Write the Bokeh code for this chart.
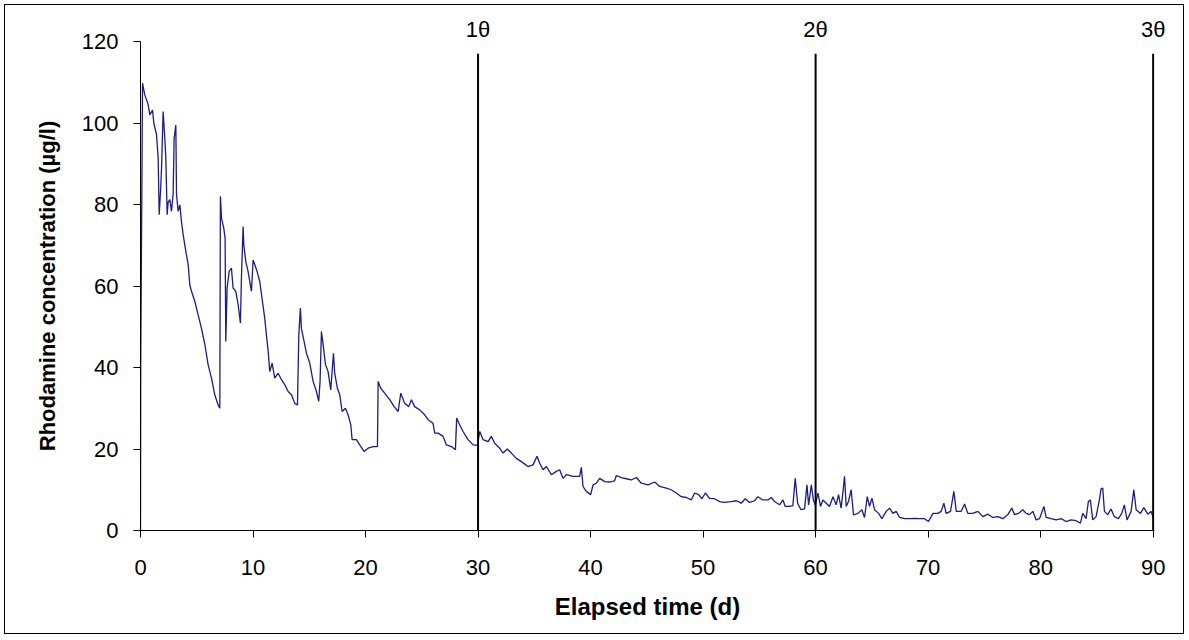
from bokeh.plotting import figure
from bokeh.models import Range1d, FixedTicker, ColumnDataSource, LinearAxis
from bokeh.embed import file_html
from bokeh.resources import INLINE

# Elapsed time (d)
days = [0, 0.02, 0.18, 0.38, 0.68, 0.83, 1.07, 1.18, 1.42, 1.57, 1.66, 1.78, 1.87, 2.01, 2.16, 2.25, 2.37, 2.46,
        2.61, 2.75, 2.9, 2.99, 3.14, 3.2, 3.35, 3.5, 3.64, 3.79, 4.03, 4.24, 4.38, 4.53, 4.83, 5.12, 5.42, 5.72,
        6.01, 6.31, 6.6, 6.9, 7.05, 7.1, 7.2, 7.4, 7.52, 7.58, 7.7, 7.88, 8.08, 8.23, 8.47, 8.68, 8.88, 8.97,
        9.12, 9.18, 9.36, 9.56, 9.71, 9.86, 10.01, 10.16, 10.36, 10.6, 10.84, 11.04,
        11.19, 11.35, 11.49, 11.7, 11.93, 12.23, 12.53, 12.82, 13.12, 13.42, 13.71, 13.95, 14.07, 14.21, 14.3,
        14.45, 14.75, 15.04, 15.34, 15.64, 15.84, 15.96, 16.08, 16.23, 16.44, 16.67, 16.91, 17.03, 17.15, 17.26,
        17.5, 17.71, 17.92, 18.21, 18.45, 18.69, 18.81, 19.19, 19.48, 19.87, 20.23, 20.67, 21.06, 21.12, 21.35,
        21.7, 22.15, 22.54, 22.9, 23.13,
        23.48, 23.84, 24.08, 24.37, 24.81, 25.26, 25.56, 26.0, 26.15, 26.45, 26.89, 27.19, 27.63, 27.99, 28.1,
        28.37, 28.67, 29.11, 29.56, 29.94, 30.15, 30.44, 30.89, 31.18, 31.48, 31.92, 32.22, 32.6, 32.96, 33.4,
        33.85, 34.44, 34.89, 35.24, 35.48, 35.78, 36.07, 36.52, 36.96, 37.25, 37.55, 37.85, 38.44, 39.03, 39.18,
        39.33, 39.62,
        40.01, 40.22, 40.51, 40.81, 41.25, 41.69, 42.14, 42.29, 42.73, 43.18, 43.62, 44.07, 44.51, 45.1, 45.7,
        46.14, 46.73, 47.17, 47.62, 48.06, 48.51, 48.95, 49.25, 49.6, 49.9, 50.2, 50.58, 51.02, 51.47, 51.91,
        52.5, 52.95, 53.39, 53.75, 54.13, 54.58, 54.87, 55.32, 55.76, 56.06, 56.35, 56.8, 57.1, 57.3, 57.68,
        57.98, 58.19, 58.4, 58.7, 59.02, 59.23, 59.38, 59.62, 59.8, 59.97, 60.21, 60.44, 60.65, 60.95, 61.24,
        61.54, 61.83, 62.04, 62.27, 62.42, 62.57, 62.72, 62.92, 63.16, 63.37, 63.76, 64.11, 64.35, 64.59, 64.79,
        65.01, 65.24, 65.6, 65.89, 66.28, 66.57, 66.87, 67.16, 67.46, 67.9, 68.35, 68.79, 69.24, 69.68, 70.03,
        70.43, 70.87, 71.16, 71.4, 71.6, 71.99, 72.29, 72.5, 72.94, 73.24, 73.53, 73.98, 74.42, 74.87,
        75.31, 75.75, 76.2, 76.64, 77.09, 77.44, 77.68, 78.03, 78.42, 78.71, 79.01, 79.31, 79.6, 79.9, 80.29,
        80.49, 80.93, 81.38, 81.82, 82.26, 82.71, 83.15, 83.54, 83.74, 84.04, 84.24, 84.42, 84.63, 84.93, 85.22,
        85.37, 85.52, 85.67, 85.96, 86.26, 86.55, 86.91, 87.21, 87.44, 87.68, 88.04, 88.28, 88.49, 88.87, 89.17,
        89.53, 89.82, 90.0]

# Rhodamine concentration (ug/l)
conc = [0, 40.7, 109.8, 106.9, 104.5, 102, 103.2, 100, 97.2, 91.4, 77.5, 83.2, 88.9, 102.8, 96.3, 91.4, 77.5, 80.6,
        81.2, 78.3, 82.5, 96.3, 99.5, 82.5, 78.3, 79.9, 75.8, 72.6, 68.5, 65.2, 60.3, 58.7, 56.2, 52.9, 49.6, 45.6,
        40.7, 37.4, 33.3, 30.8, 30.0, 82, 76.6, 74.2, 71.7, 46.4, 59.5, 63.6, 64.4, 59.5, 58.7, 55.4, 50.9, 61.9,
        74.6, 70.1, 66, 63.6, 61.1, 58.7, 66.4, 65.2, 63.6, 61.1, 56.2, 52.1,
        48, 43.9, 39, 41.1, 37.4, 38.6, 37, 35.8, 34.1, 33.3, 31.2, 30.8, 48, 54.6, 49.6,
        47.6, 43.5, 41.1, 36.6, 34.1, 31.7, 36.6, 48.8, 45.6, 40.7, 39, 34.5, 39, 43.5, 38.6,
        34.9, 33.3, 29.2, 30, 28.4, 25.9, 22.3, 22.3, 21, 19.4, 20.2, 20.6, 20.6, 36.6, 34.9,
        33.7, 32.1, 30.4, 29.2, 33.7,
        31.2, 30.4, 32.1, 30.4, 29.6, 28.4, 27.2, 26.3, 23.9, 23.9, 23.1, 21.0, 20.6, 19.8, 27.6,
        25.9, 24.3, 22.3, 21.0, 20.9, 24.3, 22.3, 21.8, 23.1, 21.4, 20.2, 19.0, 20.0, 19.0, 17.7,
        16.9, 15.7, 16.1, 18.2, 16.5, 14.9, 15.7, 13.7, 14.5, 14.9, 12.8, 13.7, 13.3, 13.3, 15.5,
        10.8, 9.6,
        8.8, 11.2, 11.6, 12.8, 12.0, 11.9, 12.2, 13.5, 13.0, 12.7, 12.4, 13.0, 11.6, 11.2, 11.9,
        10.8, 10.4, 10.0, 9.2, 8.3, 8.1, 7.5, 9.2, 8.8, 7.8, 9.2, 7.9, 7.8, 7.1, 6.9,
        7.1, 7.3, 6.7, 7.8, 6.9, 7.3, 8.3, 7.5, 7.5, 8.1, 7.1, 6.3, 7.5, 5.9, 5.9,
        6.1, 12.8, 6.7, 5.1, 5.3, 11.2, 6.3, 11.2, 7.5, 6.3, 9.2, 5.9, 7.5, 6.7, 5.9,
        8.3, 6.3, 8.8, 5.5, 9.2, 13.3, 5.9, 7.1, 10.0, 3.8, 4.2, 5.1, 3.2, 8.3, 5.9,
        7.9, 5.1, 4.2, 2.9, 4.7, 5.5, 4.2, 4.7, 3.2, 2.9, 2.9, 3.0, 2.9, 2.9, 2.2,
        4.2, 4.2, 4.7, 6.7, 4.2, 4.7, 9.6, 4.7, 4.7, 6.5, 4.2, 4.2, 4.7, 3.4,
        4.0, 3.2, 3.4, 2.9, 3.9, 5.5, 3.9, 4.2, 5.1, 4.2, 3.9, 4.7, 2.6, 2.9, 5.9,
        3.2, 2.9, 2.6, 2.9, 2.2, 2.6, 2.4, 1.8, 4.2, 2.9, 7.1, 7.5, 2.6, 3.4, 7.5,
        10.2, 10.4, 4.7, 3.9, 5.3, 3.4, 2.9, 4.2, 6.3, 2.6, 4.7, 10.0, 5.1, 4.2, 5.6,
        4.0, 4.7, 3.2]

# Residence-time markers
theta_x = [30, 60, 90]
theta_labels = ["1\u03b8", "2\u03b8", "3\u03b8"]
x_ticks = [0, 10, 20, 30, 40, 50, 60, 70, 80, 90]
y_ticks = [0, 20, 40, 60, 80, 100, 120]

FONT = "Liberation Sans"

p = figure(width=1180, height=630, output_backend="svg", toolbar_location=None,
           x_range=Range1d(0, 90.12), y_range=Range1d(0, 120),
           min_border_left=135, min_border_right=31, min_border_top=36, min_border_bottom=105)
p.styles = {"border": "1px solid black", "margin": "4px 0 0 4px"}
p.outline_line_color = None
p.grid.visible = False
p.background_fill_color = "white"
p.border_fill_color = "white"

src = ColumnDataSource(dict(x=days, y=conc))
p.line("x", "y", source=src, line_color="#1b1b8a", line_width=1.3)

marker_top = 117
p.segment(x0=theta_x, y0=[0] * len(theta_x), x1=theta_x, y1=[marker_top] * len(theta_x),
          line_color="black", line_width=2)

xa = p.below[0]
ya = p.left[0]

for ax in (xa, ya):
    ax.axis_line_color = "black"
    ax.axis_line_width = 1
    ax.major_tick_line_color = "black"
    ax.major_tick_out = 7
    ax.major_tick_in = 0
    ax.minor_tick_line_color = None
    ax.major_label_text_font = FONT
    ax.major_label_text_font_size = "22px"
    ax.major_label_text_font_style = "normal"
    ax.major_label_text_color = "black"
    ax.axis_label_text_font = FONT
    ax.axis_label_text_font_style = "bold"
    ax.axis_label_text_color = "black"

xa.ticker = FixedTicker(ticks=x_ticks)
ya.ticker = FixedTicker(ticks=y_ticks)
xa.axis_label = "Elapsed time (d)"
ya.axis_label = "Rhodamine concentration (\u00b5g/l)"
xa.axis_label_text_font_size = "24px"
ya.axis_label_text_font_size = "22px"
xa.major_label_standoff = 22
xa.axis_label_standoff = 15
ya.major_label_standoff = 15
ya.axis_label_standoff = 19

# labels of the residence-time markers, as an axis above the frame
top_axis = LinearAxis(ticker=FixedTicker(ticks=theta_x),
                      major_label_overrides={tx: tl for tx, tl in zip(theta_x, theta_labels)})
top_axis.axis_line_color = None
top_axis.major_tick_line_color = None
top_axis.minor_tick_line_color = None
top_axis.major_tick_out = 0
top_axis.major_tick_in = 0
top_axis.major_label_standoff = 0
top_axis.major_label_text_font = FONT
top_axis.major_label_text_font_size = "22px"
top_axis.major_label_text_color = "black"
p.add_layout(top_axis, "above")

open("out.html", "w").write(file_html(p, INLINE))
